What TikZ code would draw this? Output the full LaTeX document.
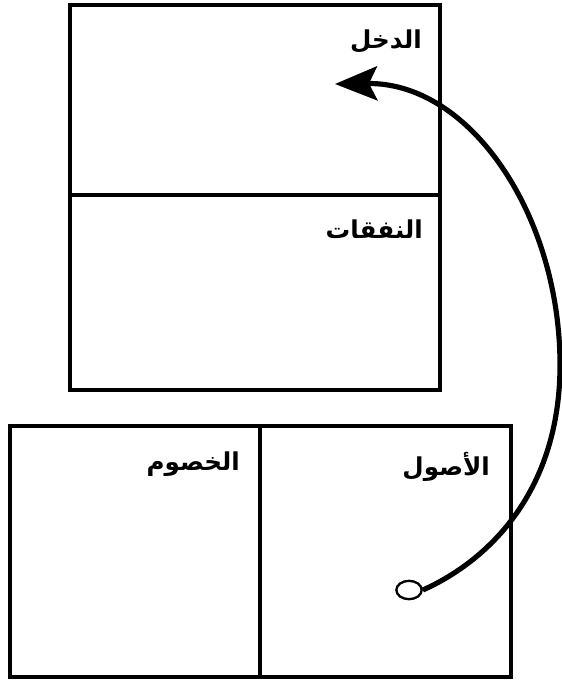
\documentclass[tikz,border=0pt]{standalone}
\usepackage{fontspec}
\TeXXeTstate=1
\newfontfamily\arabicfont[Script=Arabic]{DejaVu Sans}
\usetikzlibrary{arrows.meta,shapes.geometric}
\begin{document}
\begin{tikzpicture}[x=0.03cm,y=-0.03cm,
  box/.style={draw, line width=2.6pt, rectangle, inner sep=0pt},
  lbl/.style={anchor=north east, inner sep=0pt, font=\arabicfont\bfseries\fontsize{21}{24}\selectfont},
  flow/.style={line width=4.4pt}]
\useasboundingbox (0,0) rectangle (561,681);
% top box
\node[box, minimum width=11.1cm, minimum height=5.7cm] (inc) at (255,100) {};
\node[box, minimum width=11.1cm, minimum height=5.85cm] (exp) at (255,292.5) {};
% bottom box
\node[box, minimum width=7.5cm, minimum height=7.53cm] (liab) at (135,551.5) {};
\node[box, minimum width=7.53cm, minimum height=7.53cm] (ast) at (385.5,551.5) {};
% labels
\node[lbl] (tinc) at (422,30) {\beginR الدخل\endR};
\node[lbl] (texp) at (423,220) {\beginR النفقات\endR};
\node[lbl] (tast) at (490,452) {\beginR الأصول\endR};
\node[lbl] (tliab) at (240,452) {\beginR الخصوم\endR};
% connector
\node[draw, ellipse, line width=2pt, minimum width=0.76cm, minimum height=0.55cm, inner sep=0pt] (src) at (409,590) {};
\coordinate (tip) at (335,84);
\draw[flow, -{Stealth[length=36pt,width=29pt,inset=7pt]}] (src.east) .. controls (490,560) and (560,490) .. (560,365) .. controls (560,215) and (470,82) .. (tip);
\end{tikzpicture}
\end{document}
